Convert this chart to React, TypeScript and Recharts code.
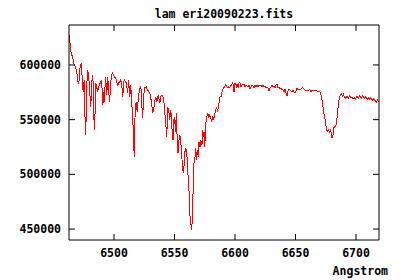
import { LineChart, Line, XAxis, YAxis } from "recharts";

// wavelength in Angstrom, flux in counts
const wavelength = [
  6463.0, 6463.8, 6464.6, 6465.5, 6466.3, 6467.1, 6467.9, 6468.8, 6469.6, 6470.4,
  6471.2, 6472.1, 6472.9, 6473.7, 6474.5, 6475.4, 6475.8, 6476.2, 6477.0, 6477.4,
  6478.3, 6479.1, 6479.9, 6480.7, 6481.3, 6482.0, 6482.6, 6483.2, 6484.0, 6484.9,
  6485.7, 6486.5, 6487.4, 6488.6, 6489.8, 6490.7, 6491.2, 6491.7, 6493.1, 6494.0,
  6494.8, 6495.6, 6496.4, 6497.3, 6498.1, 6498.9, 6500.2, 6501.4, 6502.2, 6503.1,
  6504.3, 6505.5, 6506.4, 6507.2, 6508.0, 6508.8, 6510.1, 6511.3, 6512.1, 6513.0,
  6513.8, 6514.6, 6515.2, 6515.7, 6516.3, 6516.9, 6517.5, 6518.3, 6519.2, 6520.0,
  6520.8, 6521.7, 6522.5, 6523.1, 6523.7, 6524.5, 6525.4, 6526.6, 6527.8, 6529.5,
  6530.3, 6531.2, 6532.0, 6532.8, 6533.6, 6534.5, 6535.3, 6536.5, 6537.8, 6539.0,
  6540.2, 6541.1, 6541.9, 6542.7, 6543.6, 6544.4, 6545.2, 6546.0, 6546.9, 6547.4,
  6548.1, 6548.8, 6549.3, 6550.2, 6550.7, 6551.6, 6552.2, 6552.9, 6553.5, 6554.3,
  6555.1, 6556.4, 6557.2, 6557.8, 6558.4, 6559.3, 6560.1, 6560.7, 6561.3, 6561.9,
  6562.6, 6563.4, 6564.2, 6564.8, 6565.3, 6566.1, 6566.9, 6567.5, 6568.3, 6568.9,
  6569.7, 6570.2, 6571.1, 6571.6, 6572.7, 6573.3, 6573.9, 6574.4, 6575.0, 6575.5,
  6576.0, 6576.6, 6577.4, 6578.3, 6579.1, 6579.9, 6580.7, 6581.6, 6582.4, 6583.2,
  6584.0, 6584.9, 6585.7, 6586.3, 6587.1, 6587.6, 6588.4, 6589.0, 6589.8, 6590.7,
  6591.5, 6592.3, 6593.1, 6594.0, 6594.8, 6595.6, 6597.0, 6598.1, 6598.7, 6599.2,
  6599.7, 6600.6, 6601.2, 6602.0, 6602.8, 6603.3, 6604.1, 6605.0, 6605.8, 6606.6,
  6607.4, 6608.3, 6609.1, 6609.9, 6610.7, 6611.6, 6612.4, 6613.2, 6614.1, 6614.9,
  6615.7, 6616.5, 6617.4, 6618.2, 6619.0, 6619.8, 6620.7, 6621.5, 6622.3, 6623.1,
  6624.0, 6624.8, 6625.6, 6626.4, 6627.3, 6628.1, 6628.9, 6629.7, 6630.6, 6631.4,
  6632.2, 6633.1, 6633.9, 6634.7, 6635.5, 6636.4, 6637.2, 6638.0, 6638.8, 6639.7,
  6640.5, 6641.3, 6642.1, 6643.0, 6643.8, 6644.6, 6645.5, 6646.3, 6647.1, 6647.9,
  6648.8, 6649.6, 6650.4, 6651.2, 6652.1, 6652.9, 6653.7, 6654.5, 6655.4, 6656.2,
  6657.0, 6657.8, 6658.7, 6659.5, 6660.3, 6661.2, 6662.0, 6662.8, 6663.6, 6664.5,
  6665.3, 6666.1, 6666.9, 6667.8, 6668.6, 6669.4, 6670.2, 6670.8, 6671.6, 6672.5,
  6673.3, 6674.1, 6674.9, 6675.5, 6676.3, 6677.2, 6678.0, 6678.8, 6679.7, 6680.2,
  6681.0, 6681.6, 6682.4, 6683.2, 6684.1, 6684.6, 6685.1, 6685.7, 6686.3, 6687.1,
  6687.9, 6688.7, 6689.6, 6690.4, 6691.2, 6692.1, 6692.9, 6693.7, 6694.5, 6695.4,
  6696.2, 6697.0, 6697.8, 6698.7, 6699.5, 6700.3, 6701.2, 6702.0, 6702.8, 6703.6,
  6704.5, 6705.3, 6706.1, 6706.9, 6707.8, 6708.6, 6709.4, 6710.3, 6711.1, 6711.9,
  6712.7, 6713.6, 6714.4, 6715.2, 6716.0, 6716.9, 6717.7, 6718.5,
];

const flux = [
  627500, 618300, 610100, 608200, 604600, 600000, 599100, 595400, 590900, 582600,
  586300, 600000, 600900, 588100, 575300, 586300, 577100, 536000, 549700, 579900,
  595400, 589000, 577100, 561600, 572600, 590900, 588100, 554300, 540500, 583500,
  579900, 575300, 579900, 583500, 586300, 563400, 575300, 565200, 589000, 572600,
  589000, 575300, 566100, 584400, 590900, 592700, 589000, 588100, 584400, 581700,
  584400, 586300, 581700, 570700, 584400, 586300, 583500, 574400, 586300, 570700,
  581700, 566100, 557000, 545100, 524100, 515800, 563400, 565200, 557000, 568000,
  575300, 579900, 577100, 561600, 551500, 572600, 579000, 579900, 577100, 574400,
  570700, 563400, 556100, 558800, 566100, 570700, 566100, 572600, 565200, 572600,
  571600, 568000, 557000, 547800, 534100, 561600, 558800, 549700, 558800, 552400,
  538700, 531400, 549700, 551500, 538700, 556100, 531400, 519500, 529500, 536000,
  531400, 510300, 501200, 506700, 519500, 524100, 519500, 510300, 496600, 487500,
  464600, 455400, 449000, 460900, 482900, 510300, 514900, 524100, 513100, 522200,
  515800, 529500, 525000, 531400, 526800, 540500, 534100, 538700, 525000, 537800,
  547800, 552400, 556100, 552400, 554300, 551500, 547800, 552400, 550600, 554300,
  558800, 560700, 557000, 563400, 566100, 570700, 570700, 574400, 577100, 579000,
  579900, 581700, 579900, 579000, 579900, 579000, 581700, 583500, 580800, 575300,
  582600, 583500, 579900, 581700, 579000, 583500, 583500, 579900, 581700, 581700,
  582600, 579900, 581700, 580800, 579900, 581700, 578000, 579900, 581700, 580800,
  579000, 581700, 579900, 581700, 579900, 581700, 580800, 581700, 579900, 581700,
  579900, 580800, 579000, 579900, 579000, 576200, 579000, 579900, 581700, 579900,
  580800, 579000, 581700, 582600, 579000, 579900, 578000, 579000, 577100, 577100,
  575300, 578000, 574400, 571600, 576200, 578000, 577100, 576200, 575300, 577100,
  575300, 574400, 576200, 579000, 577100, 578000, 577100, 578000, 579000, 579000,
  578000, 577100, 576200, 577100, 576200, 577100, 577100, 575300, 577100, 576200,
  577100, 576200, 577100, 576200, 575300, 576200, 575300, 573500, 569800, 563400,
  557000, 551500, 547800, 540500, 539600, 540500, 538700, 540500, 537800, 533200,
  536000, 542400, 543300, 543300, 549700, 554300, 560700, 566100, 569800, 572600,
  573500, 571600, 573500, 570700, 569800, 570700, 570700, 569800, 571600, 570700,
  569800, 569800, 568900, 569800, 568900, 570700, 570700, 569800, 571600, 570700,
  569800, 571600, 570700, 569800, 570700, 569800, 568900, 569800, 568900, 569800,
  568900, 568000, 568900, 568000, 567100, 566100, 568000, 566100,
];

const xTicks = [6500, 6550, 6600, 6650, 6700];
const yTicks = [450000, 500000, 550000, 600000];
const xDomain = [6462.8, 6719];
const yDomain = [440000, 636500];
const title = "lam eri20090223.fits";
const xLabel = "Angstrom";

const data = wavelength.map((w, i) => ({ w, flux: flux[i] }));

const font = "'DejaVu Sans Mono', monospace";
const TICK = 6;

// gnuplot-style ticks: short marks pointing into the plot, labels outside
// eslint-disable-next-line @typescript-eslint/no-explicit-any
const BottomTick = ({ x, y, payload }: any) => (
  <g>
    <line x1={x} x2={x} y1={y - 9} y2={y - 9 - TICK} stroke="#000" />
    <text x={x} y={y} dy="0.71em" textAnchor="middle" fontFamily={font} fontWeight="bold" fontSize={11.5} fill="#000">
      {payload.value}
    </text>
  </g>
);

// eslint-disable-next-line @typescript-eslint/no-explicit-any
const LeftTick = ({ x, y, payload }: any) => (
  <g>
    <line x1={x + 8} x2={x + 8 + TICK} y1={y} y2={y} stroke="#000" />
    <text x={x} y={y} dy="0.355em" textAnchor="end" fontFamily={font} fontWeight="bold" fontSize={11.5} fill="#000">
      {payload.value}
    </text>
  </g>
);

// eslint-disable-next-line @typescript-eslint/no-explicit-any
const TopTick = ({ x, y }: any) => <line x1={x} x2={x} y1={y} y2={y + TICK} stroke="#000" />;

// eslint-disable-next-line @typescript-eslint/no-explicit-any
const RightTick = ({ x, y }: any) => <line x1={x} x2={x - TICK} y1={y} y2={y} stroke="#000" />;

export default function App() {
  return (
    <div style={{ position: "fixed", left: 0, top: 0, width: 400, height: 280, background: "#fff" }}>
      <style>{".recharts-line-curve { shape-rendering: crispEdges; }"}</style>
      <LineChart width={400} height={280} data={data} margin={{ top: 24, right: 20, bottom: 0, left: 0 }}>
        <XAxis
          dataKey="w"
          type="number"
          domain={xDomain}
          allowDataOverflow
          ticks={xTicks}
          interval={0}
          height={40}
          tickSize={0}
          tickMargin={9}
          tickLine={false}
          stroke="#000"
          tick={<BottomTick />}
        />
        <XAxis
          xAxisId="top"
          dataKey="w"
          orientation="top"
          type="number"
          domain={xDomain}
          allowDataOverflow
          ticks={xTicks}
          interval={0}
          height={1}
          tickSize={0}
          tickMargin={0}
          tickLine={false}
          stroke="#000"
          tick={<TopTick />}
        />
        <YAxis
          type="number"
          domain={yDomain}
          allowDataOverflow
          ticks={yTicks}
          interval={0}
          width={69}
          tickSize={0}
          tickMargin={8}
          tickLine={false}
          stroke="#000"
          tick={<LeftTick />}
        />
        <YAxis
          yAxisId="right"
          orientation="right"
          type="number"
          domain={yDomain}
          allowDataOverflow
          ticks={yTicks}
          interval={0}
          width={1}
          tickSize={0}
          tickMargin={0}
          tickLine={false}
          stroke="#000"
          tick={<RightTick />}
        />
        <Line
          dataKey="flux"
          type="linear"
          stroke="#ff0000"
          strokeWidth={1}
          dot={false}
          activeDot={false}
          isAnimationActive={false}
        />
        {/* invisible copy so the mirrored top/right axes get drawn */}
        <Line
          xAxisId="top"
          yAxisId="right"
          dataKey="flux"
          stroke="none"
          dot={false}
          activeDot={false}
          isAnimationActive={false}
        />
      </LineChart>
      <svg width={400} height={280} style={{ position: "absolute", left: 0, top: 0, pointerEvents: "none" }}>
        <text x={224} y={17.5} textAnchor="middle" fontFamily={font} fontWeight="bold" fontSize={11.5} fill="#000">
          {title}
        </text>
        <text x={388} y={275} textAnchor="end" fontFamily={font} fontWeight="bold" fontSize={11.5} fill="#000">
          {xLabel}
        </text>
      </svg>
    </div>
  );
}
